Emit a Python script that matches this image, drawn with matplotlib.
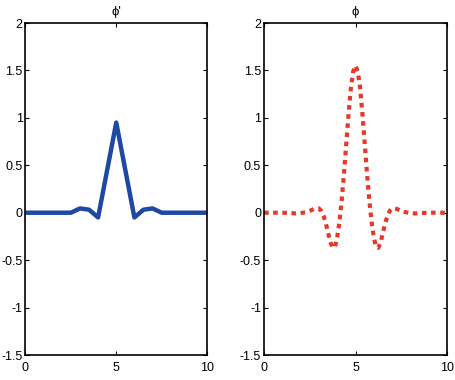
import matplotlib
matplotlib.use("Agg")
import matplotlib.pyplot as plt

plt.rcParams['font.family'] = ['Liberation Sans', 'DejaVu Sans']

# Left panel: phi' (dual), sampled at 0.5 spacing
x_left = [0, 0.5, 1, 1.5, 2, 2.5, 3, 3.5, 4, 4.5, 5, 5.5, 6, 6.5, 7, 7.5, 8, 8.5, 9, 9.5, 10]
y_left = [0, 0, 0, 0, 0, 0, 0.045, 0.032, -0.05, 0.45, 0.95, 0.45, -0.05, 0.032, 0.045, 0, 0, 0, 0, 0, 0]

# Right panel: phi
x_right = [0, 1, 1.5, 1.75, 2, 2.25, 2.5, 2.75, 3, 3.125, 3.25, 3.375, 3.5, 3.625, 3.75,
           3.875, 4, 4.125, 4.25, 4.375, 4.5, 4.625, 4.75, 4.875, 5,
           5.125, 5.25, 5.375, 5.5, 5.625, 5.75, 5.875, 6, 6.125, 6.25, 6.375, 6.5,
           6.625, 6.75, 6.875, 7, 7.25, 7.5, 7.75, 8, 8.25, 8.5, 9, 10]
y_right = [0, 0, -0.004, -0.008, -0.005, 0.005, 0.02, 0.04, 0.045, 0.02, -0.03, -0.11, -0.21, -0.31, -0.37,
           -0.36, -0.26, -0.09, 0.14, 0.42, 0.74, 1.05, 1.32, 1.49, 1.55,
           1.49, 1.32, 1.05, 0.74, 0.42, 0.14, -0.09, -0.26, -0.36, -0.37, -0.31, -0.21,
           -0.11, -0.03, 0.02, 0.045, 0.04, 0.02, 0.005, -0.005, -0.008, -0.004, 0, 0]

titles = ["\u03d5'", "\u03d5"]
xticks = [0, 5, 10]
yticks = [-1.5, -1, -0.5, 0, 0.5, 1, 1.5, 2]
ytick_labels = ['-1.5', '-1', '-0.5', '0', '0.5', '1', '1.5', '2']

W, H = 456, 380
fig = plt.figure(figsize=(W / 100, H / 100), dpi=100)
ax1 = fig.add_axes([25.5 / W, 1 - 355 / H, (207 - 25.5) / W, (355 - 23) / H])
ax2 = fig.add_axes([264 / W, 1 - 355 / H, (447 - 264) / W, (355 - 23) / H])

ax1.plot(x_left, y_left, color='#1d48a6', lw=3.2, solid_joinstyle='round', solid_capstyle='butt')
ax2.plot(x_right, y_right, color='#e6392b', lw=3.0, linestyle=(0, (1.1, 1.1)),
         dash_capstyle='butt', dash_joinstyle='round')

for ax, t in zip([ax1, ax2], titles):
    ax.set_xlim(0, 10)
    ax.set_ylim(-1.5, 2)
    ax.set_xticks(xticks)
    ax.set_xticklabels([str(v) for v in xticks])
    ax.set_yticks(yticks)
    ax.set_yticklabels(ytick_labels)
    ax.tick_params(direction='in', length=3, width=0.8, top=True, right=True,
                   labelsize=9, colors='black')
    ax.tick_params(axis='x', pad=5)
    ax.tick_params(axis='y', pad=2)
    for s in ax.spines.values():
        s.set_linewidth(1.2)
        s.set_color('black')
    ax.set_title(t, fontsize=9.5, pad=6)

fig.savefig('out.png', dpi=100)
